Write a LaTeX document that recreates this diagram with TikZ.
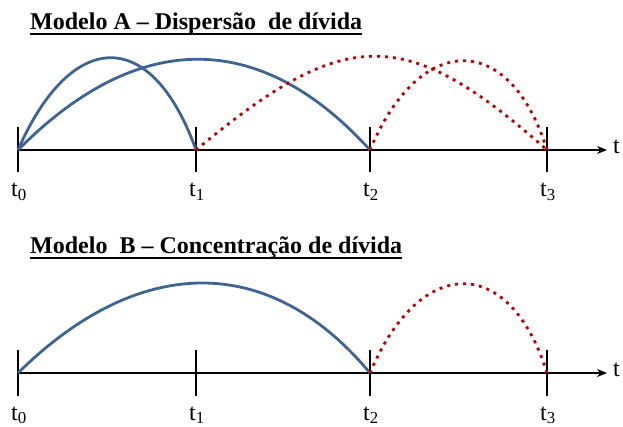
\documentclass[tikz,border=0pt]{standalone}
\usepackage{fontspec}
\setmainfont{Liberation Serif}
\usetikzlibrary{arrows.meta}

\definecolor{debtBlue}{HTML}{3F6394}
\definecolor{debtRed}{HTML}{C00000}

\tikzset{
    timeAxis/.style={line width=1.6pt,-{Stealth[length=10pt,width=8pt]}},
    tickMark/.style={line width=1.5pt},
    blueArc/.style={debtBlue,line width=2.8pt},
    redArc/.style={debtRed,line width=2.8pt,dash pattern=on 3pt off 5pt},
    tickLabel/.style={anchor=base,inner sep=0pt,font=\fontsize{24}{28}\selectfont},
    modelTitle/.style={anchor=base west,inner sep=0pt,font=\fontsize{24}{28}\selectfont\bfseries},
    titleRule/.style={line width=1.4pt}
}

\begin{document}
\begin{tikzpicture}[x=1pt,y=-1pt]
    \useasboundingbox (0,0) rectangle (623,427);

    % Model A
    \node[modelTitle] (titleA) at (30,30) {Modelo A -- Dispersão\ \ de dívida};
    \draw[titleRule] ([yshift=-4pt]titleA.base west) -- ([yshift=-4pt]titleA.base east);

    % Draw axis and ticks of A
    \coordinate (axisEndA) at (607,150);
    \foreach \k/\x in {0/18,1/196,2/370,3/547} {
        \coordinate (a\k) at (\x,150);
        \draw[tickMark] (\x,127) -- (\x,172);
        \node[tickLabel] (labelA\k) at (\x+1,197) {t\textsubscript{\k}};
    }
    \draw[timeAxis] (a0) -- (axisEndA);
    \node[anchor=west,inner sep=0pt,font=\fontsize{24}{28}\selectfont] (tA) at (613,147) {t};

    % Draw debt profiles of A
    \draw[blueArc] (a0) .. controls (72,27) and (152,27) .. (a1);
    \draw[blueArc] (a0) .. controls (138,29) and (260,29) .. (a2);
    \draw[redArc] (a1) .. controls (345,26) and (405,24) .. (a3);
    \draw[redArc] (a2) .. controls (420,31) and (510,31) .. (a3);

    % Model B
    \node[modelTitle] (titleB) at (30,254) {Modelo\ \ B -- Concentração de dívida};
    \draw[titleRule] ([yshift=-4pt]titleB.base west) -- ([yshift=-4pt]titleB.base east);

    % Draw axis and ticks of B
    \coordinate (axisEndB) at (607,373);
    \foreach \k/\x in {0/18,1/196,2/370,3/547} {
        \coordinate (b\k) at (\x,373);
        \draw[tickMark] (\x,350) -- (\x,396);
        \node[tickLabel] (labelB\k) at (\x+1,420) {t\textsubscript{\k}};
    }
    \draw[timeAxis] (b0) -- (axisEndB);
    \node[anchor=west,inner sep=0pt,font=\fontsize{24}{28}\selectfont] (tB) at (613,370) {t};

    % Draw debt profiles of B
    \draw[blueArc] (b0) .. controls (140,253) and (270,253) .. (b2);
    \draw[redArc] (b2) .. controls (420,254) and (510,254) .. (b3);

\end{tikzpicture}
\end{document}
